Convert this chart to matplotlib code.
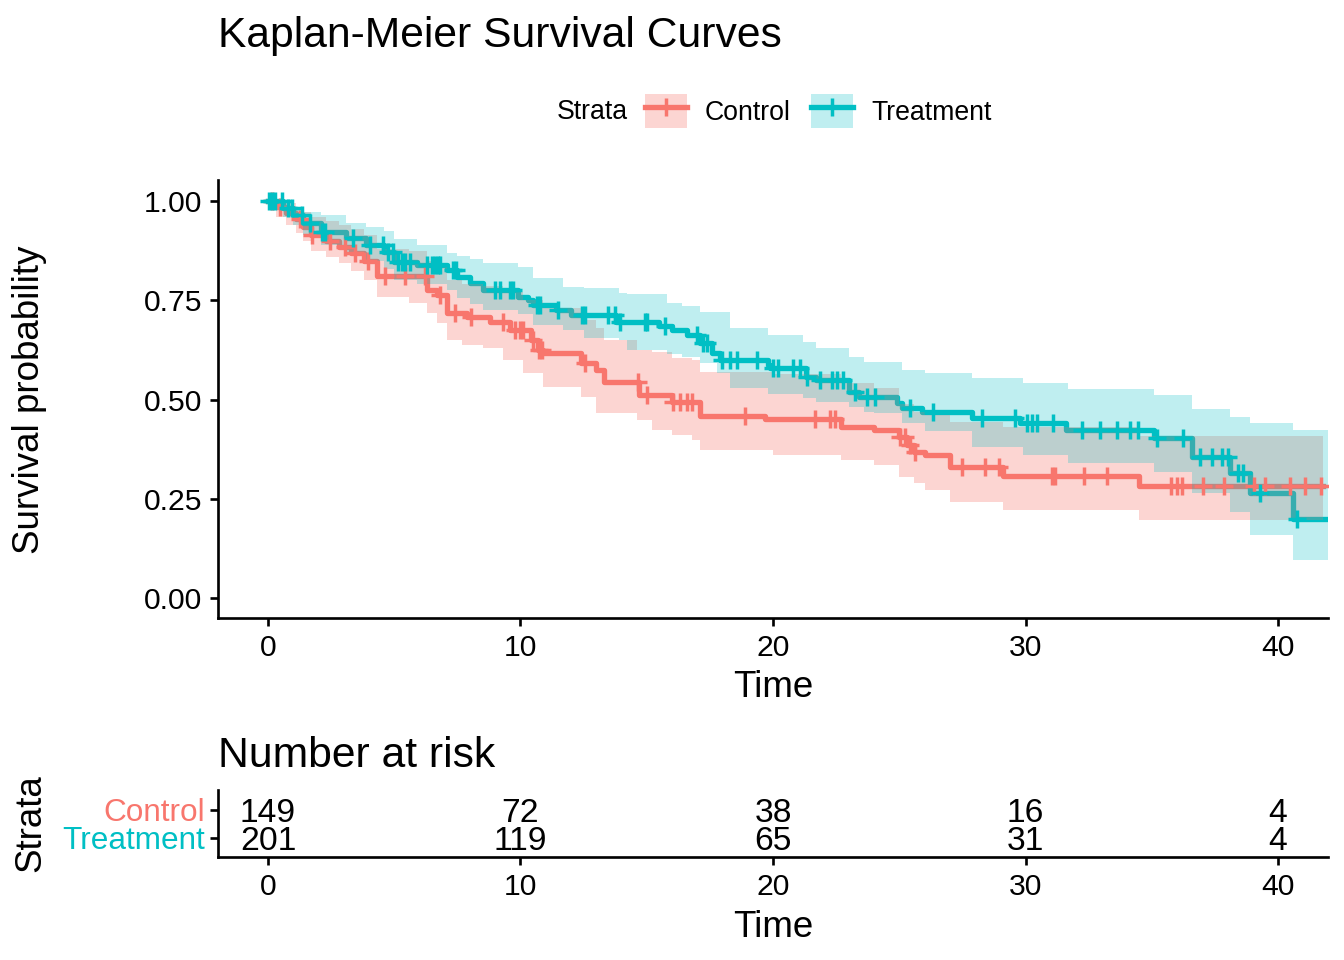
import numpy as np
import matplotlib
matplotlib.use("Agg")
import matplotlib.pyplot as plt
from matplotlib.patches import Patch
from matplotlib.lines import Line2D

plt.rcParams['font.family'] = ['Liberation Sans', 'DejaVu Sans']

# ---------------- data ----------------
groups = ["Control", "Treatment"]
colors = ["#F8766D", "#00BFC4"]

ctrl_time = [0, 0.3, 0.7, 1.1, 1.4, 1.7, 2.3, 2.8, 3.3, 3.8, 4.3, 6.3, 6.7, 7.1, 7.9, 8.8,
             9.6, 10.4, 10.7, 10.9, 12.4, 13.0, 13.3, 14.7, 16.0, 17.1, 19.7, 22.7, 24.0,
             25.0, 25.3, 25.6, 26.0, 27.0, 29.1, 34.5]
ctrl_surv = [1.0, 0.985, 0.97, 0.955, 0.935, 0.915, 0.90, 0.885, 0.87, 0.85, 0.81, 0.776,
             0.763, 0.718, 0.708, 0.695, 0.675, 0.65, 0.625, 0.617, 0.592, 0.575, 0.545,
             0.511, 0.494, 0.458, 0.451, 0.431, 0.423, 0.405, 0.385, 0.368, 0.36, 0.33,
             0.307, 0.283]
ctrl_end = 41.8

ctrl_censor = [0.16, 0.48, 1.27, 1.74, 2.46, 3.05, 3.45, 3.96, 4.63, 5.43, 6.22, 6.81, 7.41,
               8.05, 9.31, 9.78, 9.98, 10.1, 10.5, 10.75, 10.85, 12.55, 14.65, 15.01, 16.05,
               16.32, 16.59, 16.79, 18.89, 21.66, 22.26, 22.46, 25.03, 25.23, 25.43, 25.62,
               27.49, 28.4, 28.95, 31.05, 31.17, 32.32, 33.23, 35.76, 36.0, 36.2, 37.03,
               37.86, 39.05, 39.49, 40.48, 41.07, 41.7]

ctrl_band_time = [0, 0.3, 0.7, 1.1, 1.4, 1.7, 2.3, 2.8, 3.3, 3.8, 4.3, 5.6, 6.3, 6.7, 7.1,
                  7.7, 8.5, 9.3, 10.1, 10.9, 12.4, 13.0, 13.3, 14.6, 15.2, 16.0, 16.8, 17.1,
                  20.0, 22.7, 24.0, 25.0, 25.6, 26.0, 27.0, 29.1, 34.5]
ctrl_lower = [1.0, 0.96, 0.94, 0.92, 0.90, 0.875, 0.86, 0.844, 0.825, 0.80, 0.758, 0.743,
              0.718, 0.693, 0.65, 0.637, 0.63, 0.60, 0.567, 0.531, 0.506, 0.466, 0.466,
              0.448, 0.423, 0.41, 0.398, 0.373, 0.36, 0.348, 0.335, 0.305, 0.29, 0.272,
              0.242, 0.222, 0.196]
ctrl_upper = [1.0, 1.0, 0.995, 0.985, 0.972, 0.96, 0.95, 0.94, 0.93, 0.915, 0.88, 0.875,
              0.85, 0.84, 0.80, 0.79, 0.785, 0.77, 0.75, 0.73, 0.70, 0.68, 0.65, 0.625,
              0.62, 0.605, 0.60, 0.57, 0.565, 0.541, 0.529, 0.49, 0.47, 0.46, 0.443, 0.43,
              0.408]

trt_time = [0, 0.6, 1.0, 1.4, 2.1, 3.1, 3.9, 4.6, 5.0, 5.9, 7.1, 7.5, 8.0, 8.5, 9.9, 10.3,
            10.5, 11.4, 12.0, 13.8, 15.5, 16.0, 16.6, 17.1, 17.6, 17.9, 19.8, 19.9, 21.3,
            21.7, 23.0, 23.4, 24.9, 25.1, 25.9, 27.9, 29.8, 31.6, 35.1, 36.6, 38.1, 38.9,
            40.6]
trt_surv = [1.0, 0.982, 0.965, 0.945, 0.922, 0.907, 0.889, 0.872, 0.846, 0.839, 0.826,
            0.809, 0.793, 0.776, 0.758, 0.751, 0.738, 0.725, 0.713, 0.695, 0.685, 0.675,
            0.662, 0.642, 0.617, 0.600, 0.587, 0.579, 0.557, 0.549, 0.519, 0.506, 0.491,
            0.479, 0.469, 0.453, 0.441, 0.423, 0.403, 0.355, 0.315, 0.264, 0.199]
trt_end = 41.98

trt_censor = [0.05, 0.16, 0.28, 0.55, 0.79, 0.95, 1.35, 1.66, 2.14, 2.26, 3.37, 4.04, 4.55,
              4.75, 4.95, 5.15, 5.31, 5.43, 5.62, 6.3, 6.5, 6.61, 6.73, 6.81, 7.33, 7.45,
              8.99, 9.19, 9.58, 9.7, 10.65, 10.77, 11.49, 12.44, 12.55, 13.47, 13.74, 13.94,
              14.93, 15.01, 15.72, 16.99, 17.23, 17.39, 17.98, 18.3, 18.57, 19.37, 20.0,
              20.2, 20.79, 21.07, 21.35, 21.86, 22.34, 22.53, 22.77, 23.25, 23.72, 24.04,
              25.43, 26.34, 28.28, 29.58, 30.06, 30.26, 30.46, 31.09, 32.24, 32.95, 33.62,
              34.14, 34.46, 35.21, 36.24, 36.91, 37.39, 37.78, 38.02, 38.42, 38.61, 39.29,
              40.75]

trt_band_time = [0, 0.6, 1.0, 1.4, 2.1, 3.1, 3.9, 4.6, 5.0, 5.9, 7.1, 7.5, 8.0, 8.5, 9.9,
                 10.5, 11.7, 12.5, 13.9, 14.2, 15.8, 16.4, 17.1, 17.8, 18.3, 19.8, 21.2,
                 21.7, 23.0, 23.6, 24.0, 25.1, 26.0, 27.9, 29.9, 31.7, 35.1, 36.6, 38.1,
                 38.9, 40.6]
trt_lower = [1.0, 0.96, 0.94, 0.915, 0.89, 0.87, 0.85, 0.83, 0.80, 0.79, 0.775, 0.755,
             0.74, 0.725, 0.715, 0.688, 0.675, 0.655, 0.65, 0.625, 0.615, 0.607, 0.592,
             0.567, 0.529, 0.515, 0.504, 0.495, 0.481, 0.47, 0.466, 0.44, 0.42, 0.38, 0.36,
             0.34, 0.317, 0.264, 0.217, 0.159, 0.096]
trt_upper = [1.0, 1.0, 0.985, 0.972, 0.965, 0.945, 0.935, 0.924, 0.904, 0.89, 0.869, 0.862,
             0.855, 0.844, 0.834, 0.806, 0.783, 0.78, 0.768, 0.765, 0.743, 0.735, 0.72,
             0.72, 0.68, 0.662, 0.645, 0.63, 0.607, 0.594, 0.594, 0.574, 0.567, 0.554,
             0.541, 0.526, 0.511, 0.477, 0.456, 0.44, 0.423]

risk_times = [0, 10, 20, 30, 40]
risk_control = [149, 72, 38, 16, 4]
risk_treatment = [201, 119, 65, 31, 4]

x_ticks = [0, 10, 20, 30, 40]
y_ticks = [0.0, 0.25, 0.5, 0.75, 1.0]
y_ticklabels = ["0.00", "0.25", "0.50", "0.75", "1.00"]

band_alpha = [0.3, 0.25]

# ---------------- figure ----------------
W, H = 1344, 960
fig = plt.figure(figsize=(7, 5), dpi=192)

def fx(px):
    return px / W

def fy(px):
    return 1 - px / H

ax = fig.add_axes([fx(218), fy(618), fx(1328) - fx(218), fy(180) - fy(618)])

series = [
    (ctrl_time, ctrl_surv, ctrl_end, ctrl_censor, ctrl_band_time, ctrl_lower, ctrl_upper),
    (trt_time, trt_surv, trt_end, trt_censor, trt_band_time, trt_lower, trt_upper),
]

LW = 2.0
MS = 6.6
MEW = 1.3

# survival step lines (drawn first, ribbons go over them as in survminer)
for (t, s, end, cens, bt, lo, up), col in zip(series, colors):
    t_ = np.append(t, end)
    s_ = np.append(s, s[-1])
    ax.step(t_, s_, where='post', color=col, lw=LW, zorder=1)

# confidence ribbons
for (t, s, end, cens, bt, lo, up), col, a in zip(series, colors, band_alpha):
    bt_ = np.append(bt, end)
    lo_ = np.append(lo, lo[-1])
    up_ = np.append(up, up[-1])
    ax.fill_between(bt_, lo_, up_, step='post', color=col, alpha=a, lw=0, zorder=2)

# censor marks
for (t, s, end, cens, bt, lo, up), col in zip(series, colors):
    ta = np.asarray(t)
    sa = np.asarray(s)
    idx = np.searchsorted(ta, np.asarray(cens), side='right') - 1
    ax.plot(cens, sa[idx], ls='none', marker='+', ms=MS, mew=MEW, color=col, zorder=3)

xlim = (-1.98, 41.98)
ax.set_xlim(*xlim)
ax.set_ylim(-0.05, 1.053)
ax.set_xticks(x_ticks)
ax.set_yticks(y_ticks)
ax.set_yticklabels(y_ticklabels)
for sp in ['top', 'right']:
    ax.spines[sp].set_visible(False)
for sp in ['left', 'bottom']:
    ax.spines[sp].set_linewidth(1.0)
ax.tick_params(axis='both', labelsize=11.3, width=1.0, length=3, pad=3, color='black',
               labelcolor='black')

ax.set_xlabel("Time", fontsize=13.8)
ax.xaxis.set_label_coords(0.5, (618 - 697) / 438)
ax.xaxis.label.set_va('baseline')

fig.text(fx(30), fy(400), "Survival probability", rotation=90, ha='center', va='center',
         fontsize=13.8)

fig.text(fx(218), fy(47), "Kaplan-Meier Survival Curves", ha='left', va='baseline',
         fontsize=16)

# legend
handles = []
for g, col, a in zip(groups, colors, band_alpha):
    handles.append((Patch(facecolor=col, alpha=a, edgecolor='none'),
                    Line2D([], [], color=col, lw=LW, marker='+', ms=MS, mew=MEW)))
fig.legend(handles, groups, loc='center left', bbox_to_anchor=(fx(645), fy(111)),
           frameon=False, fontsize=10, handlelength=1.575, handleheight=1.575,
           handletextpad=0.675, columnspacing=0.75, ncol=2, borderpad=0,
           borderaxespad=0, numpoints=1)
fig.text(fx(557), fy(112), "Strata", ha='left', va='center', fontsize=10)

# ---------------- risk table ----------------
ax2 = fig.add_axes([fx(218), fy(857), fx(1328) - fx(218), fy(790) - fy(857)])
ax2.set_xlim(*xlim)
ax2.set_ylim(0.321, 2.714)
for tt, n in zip(risk_times, risk_control):
    ax2.text(tt, 2 - 0.11, str(n), ha='center', va='center', fontsize=12.6)
for tt, n in zip(risk_times, risk_treatment):
    ax2.text(tt, 1 - 0.11, str(n), ha='center', va='center', fontsize=12.6)
ax2.set_xticks(x_ticks)
ax2.set_yticks([2, 1])
ax2.set_yticklabels(groups, fontsize=11.8)
for lab, col in zip(ax2.get_yticklabels(), colors):
    lab.set_color(col)
for sp in ['top', 'right']:
    ax2.spines[sp].set_visible(False)
for sp in ['left', 'bottom']:
    ax2.spines[sp].set_linewidth(1.0)
ax2.tick_params(axis='x', labelsize=11.3, width=1.0, length=3, pad=3)
ax2.tick_params(axis='y', width=1.0, length=3, pad=2)
ax2.set_xlabel("Time", fontsize=13.8)
ax2.xaxis.set_label_coords(0.5, (857 - 937) / 67)
ax2.xaxis.label.set_va('baseline')

fig.text(fx(31), fy(823), "Strata", rotation=90, ha='center', va='center', fontsize=13.8)
fig.text(fx(218), fy(767), "Number at risk", ha='left', va='baseline', fontsize=16)

fig.savefig("out.png", dpi=192)
